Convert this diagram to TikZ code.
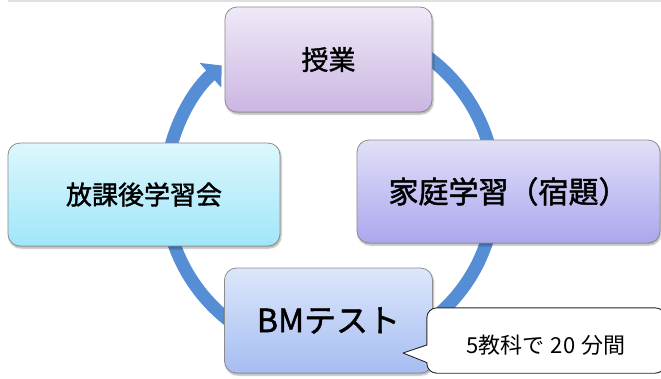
\documentclass[tikz,border=0pt]{standalone}
\usepackage{fontspec}
\newfontfamily\jpfont[FakeBold=1.5]{Noto Sans CJK JP}
\newfontfamily\notefont{Noto Sans CJK JP}
\usetikzlibrary{arrows.meta,shadows.blur}
\definecolor{ringblue}{RGB}{85,142,213}
\definecolor{lesstop}{RGB}{239,233,247}
\definecolor{lessbot}{RGB}{203,182,226}
\definecolor{aftertop}{RGB}{221,247,253}
\definecolor{afterbot}{RGB}{160,230,249}
\definecolor{hometop}{RGB}{224,224,248}
\definecolor{homebot}{RGB}{171,167,238}
\definecolor{testtop}{RGB}{221,231,251}
\definecolor{testbot}{RGB}{166,189,242}
\begin{document}
\begin{tikzpicture}[x=1pt, y=-1pt, line join=round,
	box/.style={draw=black!45, line width=0.8pt, rounded corners=12pt, inner sep=0pt, font=\jpfont,
		blur shadow={shadow xshift=1pt, shadow yshift=-2pt, shadow blur steps=5, shadow opacity=35}},
	ring/.style={ringblue, line width=13pt, -{Triangle[width=32pt,length=15pt]}}]
	\useasboundingbox (0,0) rectangle (661,378);
	\draw[black!12, line width=2pt] (8,0.5) -- (661,0.5);
	% ring under the boxes
	\coordinate (hub) at (330,190);
	\draw[ring] ([shift={(-80:165)}]hub) arc[start angle=-80, end angle=229, radius=165];
	% the four steps
	\node[box, top color=lesstop, bottom color=lessbot, minimum width=207pt, minimum height=105pt, font=\jpfont\fontsize{27}{30}\selectfont] (lesson) at (328.5,59.5) {授業};
	\node[box, top color=hometop, bottom color=homebot, minimum width=303pt, minimum height=103pt, font=\jpfont\fontsize{30}{34}\selectfont] (home) at (508.5,191.5) {家庭学習（宿題）};
	\node[box, top color=testtop, bottom color=testbot, minimum width=208pt, minimum height=105pt, font=\jpfont\fontsize{32}{36}\selectfont] (test) at (328.5,320.5) {BMテスト};
	\node[box, top color=aftertop, bottom color=afterbot, minimum width=272pt, minimum height=103pt, font=\jpfont\fontsize{26}{30}\selectfont] (after) at (144,194.5) {放課後学習会};
	% callout
	\node[minimum width=238pt, minimum height=65pt, inner sep=0pt] (note) at (546,340.5) {};
	\coordinate (tip) at (403,353);
	\draw[black!85, line width=0.9pt, fill=white] ([yshift=-22pt]note.west) -- (tip) -- ([yshift=-4.5pt]note.west)
		[rounded corners=10pt] -- (note.north west) -- (note.north east) -- (note.south east) -- (note.south west) [sharp corners] -- cycle;
	\node[font=\notefont\fontsize{22}{25}\selectfont] (notetext) at (546,345) {5教科で\hspace{6pt}20\hspace{6pt}分間};
\end{tikzpicture}
\end{document}
